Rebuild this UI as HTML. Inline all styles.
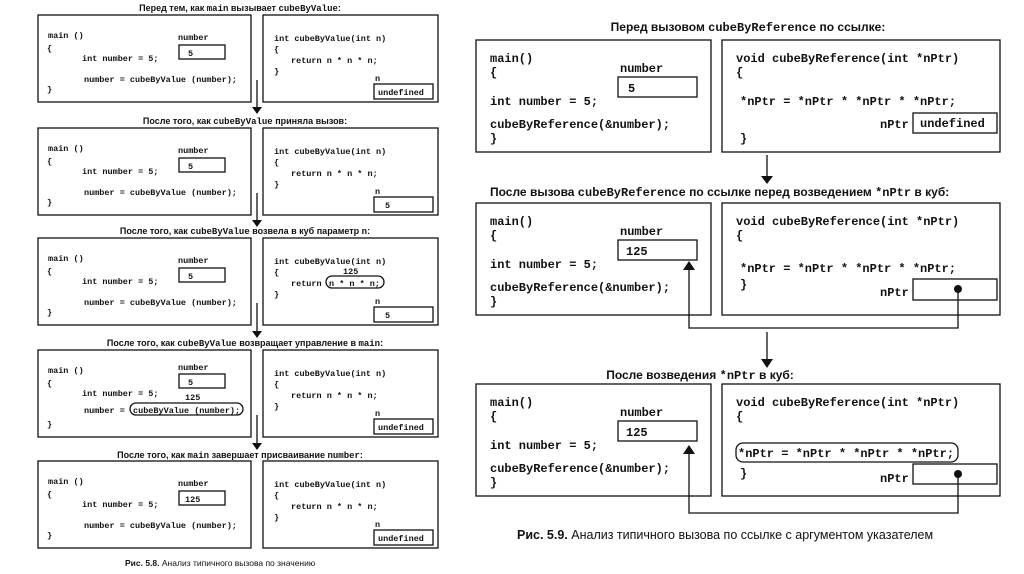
<!DOCTYPE html>
<html><head><meta charset="utf-8"><style>
html,body{margin:0;padding:0;background:#fff;width:1024px;height:574px;overflow:hidden}
svg{display:block}
.c{font-family:"Liberation Mono",monospace;font-weight:bold;fill:#111}
.s{font-size:8.5px}
.b{font-size:12px}
.t{font-family:"Liberation Sans","DejaVu Sans",sans-serif;font-weight:bold;fill:#111}
.r{fill:none;stroke:#111;stroke-width:1.3}
</style></head><body>
<svg width="1024" height="574" viewBox="0 0 1024 574" xmlns="http://www.w3.org/2000/svg">
<defs>
<g id="L">
<rect class="r" x="38" y="15" width="213" height="87"/>
<rect class="r" x="263" y="15" width="175" height="87"/>
<text class="c s" x="48" y="38">main ()</text>
<text class="c s" x="47" y="51">{</text>
<text class="c s" x="82" y="61">int number = 5;</text>
<text class="c s" x="47" y="92">}</text>
<text class="c s" x="274" y="41">int cubeByValue(int n)</text>
<text class="c s" x="274" y="52">{</text>
<text class="c s" x="274" y="74">}</text>
<text class="c s" x="375" y="81">n</text>
<rect class="r" x="374" y="84" width="59" height="15"/>
</g>
<g id="R">
<rect class="r" x="476" y="40" width="235" height="112"/>
<rect class="r" x="722" y="40" width="278" height="112"/>
<text class="c b" x="490" y="62">main()</text>
<text class="c b" x="490" y="76">{</text>
<text class="c b" x="620" y="72">number</text>
<rect class="r" x="618" y="77" width="79" height="20"/>
<text class="c b" x="490" y="105">int number = 5;</text>
<text class="c b" x="490" y="128">cubeByReference(&amp;number);</text>
<text class="c b" x="490" y="142">}</text>
<text class="c b" x="736" y="62">void cubeByReference(int *nPtr)</text>
<text class="c b" x="736" y="76">{</text>
</g>
</defs>

<!-- LEFT -->
<text class="t" x="240" y="11" font-size="9" text-anchor="middle">Перед тем, как <tspan class="c">main</tspan> вызывает <tspan class="c">cubeByValue</tspan>:</text>
<use href="#L"/>
<text class="c s" x="178" y="40">number</text>
<rect class="r" x="179" y="45" width="46" height="14"/>
<text class="c s" x="188" y="56">5</text>
<text class="c s" x="84" y="82">number = cubeByValue (number);</text>
<text class="c s" x="291" y="63">return n * n * n;</text>
<text class="c s" x="378" y="95">undefined</text>

<text class="t" x="245" y="124" font-size="9" text-anchor="middle">После того, как <tspan class="c">cubeByValue</tspan> приняла вызов:</text>
<g transform="translate(0,113)"><use href="#L"/>
<text class="c s" x="178" y="40">number</text>
<rect class="r" x="179" y="45" width="46" height="14"/>
<text class="c s" x="188" y="56">5</text>
<text class="c s" x="84" y="82">number = cubeByValue (number);</text>
<text class="c s" x="291" y="63">return n * n * n;</text>
<text class="c s" x="385" y="95">5</text></g>

<text class="t" x="245" y="234" font-size="9" text-anchor="middle">После того, как <tspan class="c">cubeByValue</tspan> возвела в куб параметр <tspan class="c">n</tspan>:</text>
<g transform="translate(0,223)"><use href="#L"/>
<text class="c s" x="178" y="40">number</text>
<rect class="r" x="179" y="45" width="46" height="14"/>
<text class="c s" x="188" y="56">5</text>
<text class="c s" x="84" y="82">number = cubeByValue (number);</text>
<text class="c s" x="343" y="51">125</text>
<text class="c s" x="291" y="63">return</text>
<rect class="r" x="326" y="53" width="58" height="12" rx="6"/>
<text class="c s" x="329" y="63">n * n * n;</text>
<text class="c s" x="385" y="95">5</text></g>

<text class="t" x="245" y="346" font-size="9" text-anchor="middle">После того, как <tspan class="c">cubeByValue</tspan> возвращает управление в <tspan class="c">main</tspan>:</text>
<g transform="translate(0,335)"><use href="#L"/>
<text class="c s" x="178" y="35">number</text>
<rect class="r" x="179" y="39" width="46" height="14"/>
<text class="c s" x="188" y="50">5</text>
<text class="c s" x="185" y="65">125</text>
<text class="c s" x="84" y="78">number =</text>
<rect class="r" x="130" y="68" width="113" height="12" rx="6"/>
<text class="c s" x="133" y="78">cubeByValue (number);</text>
<text class="c s" x="291" y="63">return n * n * n;</text>
<text class="c s" x="378" y="95">undefined</text></g>

<text class="t" x="240" y="458" font-size="9" text-anchor="middle">После того, как <tspan class="c">main</tspan> завершает присваивание <tspan class="c">number</tspan>:</text>
<g transform="translate(0,446)"><use href="#L"/>
<text class="c s" x="178" y="40">number</text>
<rect class="r" x="179" y="45" width="46" height="14"/>
<text class="c s" x="185" y="56">125</text>
<text class="c s" x="84" y="82">number = cubeByValue (number);</text>
<text class="c s" x="291" y="63">return n * n * n;</text>
<text class="c s" x="378" y="95">undefined</text></g>

<g stroke="#111" stroke-width="1.3" fill="#111">
<line x1="257" y1="80" x2="257" y2="108"/><polygon points="252,107 262,107 257,114" stroke="none"/>
<line x1="257" y1="193" x2="257" y2="221"/><polygon points="252,220 262,220 257,227" stroke="none"/>
<line x1="257" y1="303" x2="257" y2="331"/><polygon points="252,331 262,331 257,338" stroke="none"/>
<line x1="257" y1="415" x2="257" y2="443"/><polygon points="252,443 262,443 257,450" stroke="none"/>
</g>
<text class="t" x="125" y="566" font-size="8.5">Рис. 5.8. <tspan font-weight="normal">Анализ типичного вызова по значению</tspan></text>

<!-- RIGHT -->
<text class="t" x="748" y="31" font-size="12" text-anchor="middle">Перед вызовом <tspan class="c">cubeByReference</tspan> по ссылке:</text>
<use href="#R"/>
<text class="c b" x="628" y="92">5</text>
<text class="c b" x="740" y="105">*nPtr = *nPtr * *nPtr * *nPtr;</text>
<text class="c b" x="880" y="128">nPtr</text>
<rect class="r" x="913" y="113" width="84" height="20"/>
<text class="c b" x="920" y="127">undefined</text>
<text class="c b" x="740" y="142">}</text>

<text class="t" x="490" y="196" font-size="12">После вызова <tspan class="c">cubeByReference</tspan> по ссылке перед возведением <tspan class="c">*nPtr</tspan> в куб:</text>
<g transform="translate(0,163)"><use href="#R"/>
<text class="c b" x="626" y="92">125</text>
<text class="c b" x="740" y="109">*nPtr = *nPtr * *nPtr * *nPtr;</text>
<text class="c b" x="740" y="125">}</text>
<text class="c b" x="880" y="133">nPtr</text>
<rect class="r" x="913" y="116" width="84" height="21"/></g>

<text class="t" x="700" y="379" font-size="12" text-anchor="middle">После возведения <tspan class="c">*nPtr</tspan> в куб:</text>
<g transform="translate(0,344)"><use href="#R"/>
<text class="c b" x="626" y="92">125</text>
<rect class="r" x="736" y="99" width="222" height="19" rx="7"/>
<text class="c b" x="738" y="113">*nPtr = *nPtr * *nPtr * *nPtr;</text>
<text class="c b" x="740" y="133">}</text>
<text class="c b" x="880" y="138">nPtr</text>
<rect class="r" x="913" y="120" width="84" height="20"/></g>

<g stroke="#111" stroke-width="1.3" fill="#111">
<line x1="767" y1="155" x2="767" y2="177"/><polygon points="761,176 773,176 767,184" stroke="none"/>
<line x1="767" y1="332" x2="767" y2="360"/><polygon points="761,359 773,359 767,368" stroke="none"/>
<circle cx="958" cy="289" r="4" stroke="none"/>
<polyline fill="none" points="958,289 958,328 689,328 689,268"/>
<polygon points="683,270 695,270 689,261" stroke="none"/>
<circle cx="958" cy="474" r="4" stroke="none"/>
<polyline fill="none" points="958,474 958,513 689,513 689,452"/>
<polygon points="683,454 695,454 689,445" stroke="none"/>
</g>
<text class="t" x="517" y="539" font-size="12.5">Рис. 5.9. <tspan font-weight="normal">Анализ типичного вызова по ссылке с аргументом указателем</tspan></text>
</svg>
</body></html>
